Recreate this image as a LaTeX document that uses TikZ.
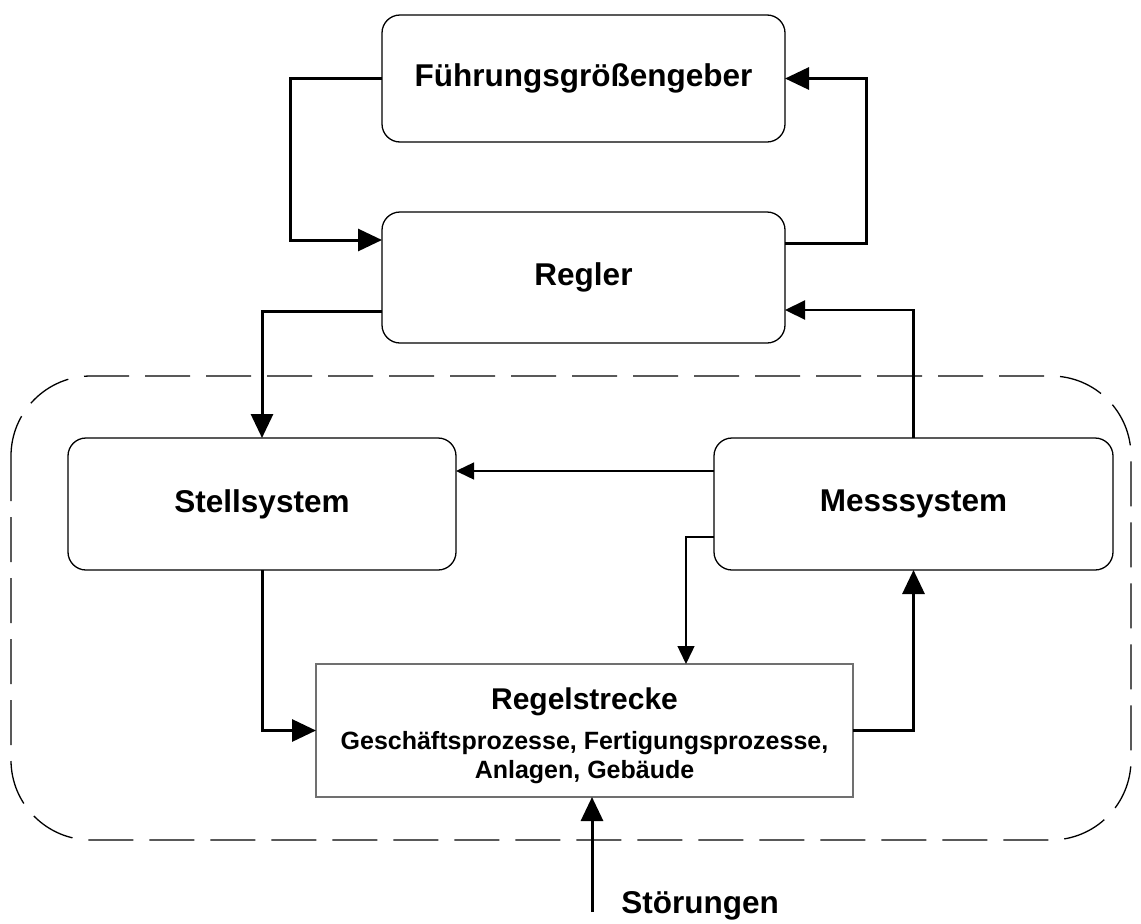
\documentclass[tikz,border=0pt]{standalone}
\usepackage{fontspec}
\setmainfont{Liberation Sans}
\usetikzlibrary{arrows.meta}
\definecolor{edgegray}{RGB}{112,112,112}
\begin{document}
\begin{tikzpicture}[x=1pt,y=-1pt,
  every node/.style={font=\fontsize{31.5}{36}\selectfont\bfseries, inner sep=0pt, outer sep=0pt},
  block/.style={draw, line width=1.3pt, rounded corners=18pt, align=center},
  plantbox/.style={draw=edgegray, line width=1.3pt, align=center, font=\fontsize{25}{29}\selectfont\bfseries},
  mainflow/.style={line width=3pt, -{Triangle[length=24pt,width=22pt]}},
  backflow/.style={line width=2.2pt, -{Triangle[length=20pt,width=19pt]}},
  sideflow/.style={line width=1.4pt, -{Triangle[length=18pt,width=17pt]}},
  region/.style={line width=1.3pt, dash pattern=on 45pt off 16pt, rounded corners=80pt}]
\useasboundingbox (0,0) rectangle (1141,924);

% controlled system boundary
\draw[region] (11,376) rectangle (1131,840);

% blocks
\node[block, minimum width=403pt, minimum height=127pt] (fg) at (583.5,78.5) {Führungsgrößengeber};
\node[block, minimum width=403pt, minimum height=131pt] (rg) at (583.5,277.5) {Regler};
\node[block, minimum width=388pt, minimum height=132pt] (ss) at (262,504) {Stellsystem};
\node[block, minimum width=399pt, minimum height=132pt] (ms) at (913.5,504) {Messsystem};
\node[plantbox, minimum width=537pt, minimum height=133pt] (rs) at (584.5,730.5)
  {{\fontsize{30}{30}\selectfont\rule{0pt}{33pt}Regelstrecke}\\[11pt]
   Geschäftsprozesse, Fertigungsprozesse,\\ Anlagen, Gebäude};
\node (st) at (700,906) {Störungen};
\coordinate (st0) at (592,912);

% connectors
\draw[mainflow] (fg.west) -- ++(-92,0) |- ([yshift=37.5pt]rg.west);
\draw[mainflow] ([yshift=34.5pt]rg.east) -- ++(81,0) |- (fg.east);
\draw[backflow] (ms.north) |- ([yshift=-32.5pt]rg.east);
\draw[mainflow] ([yshift=-33.5pt]rg.west) -| (ss.north);
\draw[sideflow] ([yshift=33pt]ms.west) -- ([yshift=33pt]ss.east);
\draw[sideflow] ([yshift=-33pt]ms.west) -| ([xshift=101.5pt]rs.north);
\draw[mainflow] (ss.south) |- (rs.west);
\draw[mainflow] (rs.east) -| (ms.south);
\draw[mainflow] (st0) -- (st0 |- rs.south);
\end{tikzpicture}
\end{document}
